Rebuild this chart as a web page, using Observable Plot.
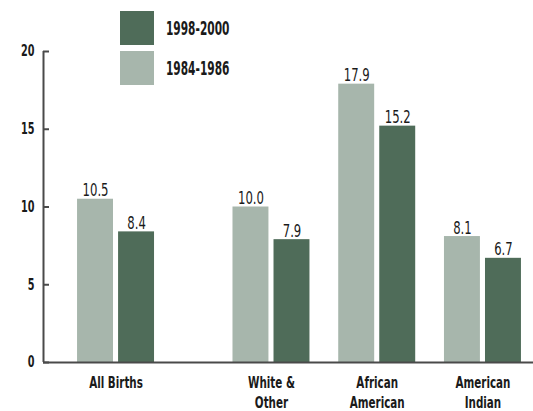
<!DOCTYPE html>
<html><head><meta charset="utf-8">
<script src="https://cdn.jsdelivr.net/npm/d3@7"></script>
<script src="https://cdn.jsdelivr.net/npm/@observablehq/plot@0.6"></script>
<style>
body{margin:0;background:#fff;}
#wrap{position:relative;width:533px;height:411px;font-family:"Liberation Sans Narrow","DejaVu Sans Condensed","Arial Narrow",sans-serif;}
#legend{position:absolute;left:120px;top:11px;}
.item{display:flex;align-items:center;height:34px;margin-bottom:6px;font-weight:bold;font-size:19px;color:#1a1a1a;white-space:nowrap}
.sw{width:34px;height:34px;margin-right:12px;flex:none}
.lt{display:inline-block;transform:scaleX(0.62);transform-origin:left center}
</style></head><body><div id="wrap"><div id="chart"></div><div id="legend"></div></div>
<script>
const categories = ["All Births", "White & Other", "African American", "American Indian"];
const categoryLabels = ["All Births", "White &\nOther", "African\nAmerican", "American\nIndian"];
const series = ["1984-1986", "1998-2000"];
const values1984 = [10.5, 10.0, 17.9, 8.1];
const values1998 = [8.4, 7.9, 15.2, 6.7];
const yTicks = [0, 5, 10, 15, 20];
const legendOrder = ["1998-2000", "1984-1986"];
const seriesColors = ["#a7b6ac", "#4f6c59"];

// layout (in group units): extra gap after the first group
const groupGap = 0.47;
const groupPos = categories.map((c, i) => i === 0 ? 0 : i + groupGap);
const halfGap = 0.024, barW = 0.34;
const xDomain = [-0.686, 3.948];

const rows = [];
categories.forEach((c, i) => {
  rows.push({cat: c, series: series[0], value: values1984[i], x1: groupPos[i] - halfGap - barW, x2: groupPos[i] - halfGap});
  rows.push({cat: c, series: series[1], value: values1998[i], x1: groupPos[i] + halfGap, x2: groupPos[i] + halfGap + barW});
});

const axisColor = "#4a4a4a";
const ink = "#1a1a1a";
const chart = Plot.plot({
  width: 533,
  height: 411,
  marginTop: 51,
  marginBottom: 49,
  marginLeft: 43,
  marginRight: 0,
  style: {fontFamily: '"Liberation Sans Narrow","DejaVu Sans Condensed","Arial Narrow",sans-serif', fontSize: "16px", color: ink},
  x: {domain: xDomain, axis: null},
  y: {domain: [0, 20], axis: null},
  color: {domain: series, range: seriesColors},
  marks: [
    Plot.rectY(rows, {x1: "x1", x2: "x2", y: "value", fill: "series"}),
    Plot.text(rows, {x: d => (d.x1 + d.x2) / 2, y: "value", text: d => d.value.toFixed(1), dy: -3, lineAnchor: "bottom", fontSize: 18, fill: ink, ariaLabel: "value-label"}),
    Plot.ruleY([0], {stroke: axisColor, strokeWidth: 2}),
    Plot.ruleX([xDomain[0]], {y1: 0, y2: 20, stroke: axisColor, strokeWidth: 2}),
    Plot.axisY(yTicks, {tickSize: 6, dx: 6, text: null, label: null, stroke: axisColor, strokeWidth: 2}),
    Plot.axisY(yTicks, {tickSize: 0, tickPadding: 9, label: null, fontWeight: "bold", fontSize: 15, fill: ink}),
    Plot.axisX(groupPos, {tickSize: 0, tickPadding: 11, tickFormat: d => categoryLabels[groupPos.indexOf(d)], lineHeight: 1.25, fontWeight: "bold", fontSize: 16, fill: ink, label: null})
  ]
});
document.getElementById("chart").appendChild(chart);

// condense the glyphs horizontally (the reference uses a condensed face)
chart.querySelectorAll("text").forEach(t => {
  const g = t.closest("g[aria-label]");
  const isValue = g && g.getAttribute("aria-label") === "value-label";
  const k = isValue ? 0.74 : 0.72;
  const tr = t.getAttribute("transform") || "";
  if (!tr && (t.hasAttribute("x") || t.hasAttribute("y"))) {
    const x = t.getAttribute("x") || 0, y = t.getAttribute("y") || 0;
    t.removeAttribute("x"); t.removeAttribute("y");
    t.setAttribute("transform", `translate(${x},${y}) scale(${k},1)`);
  } else {
    t.setAttribute("transform", `${tr} scale(${k},1)`);
  }
});

const legend = document.getElementById("legend");
legendOrder.forEach(s => {
  const item = document.createElement("div");
  item.className = "item";
  const sw = document.createElement("div");
  sw.className = "sw";
  sw.style.background = seriesColors[series.indexOf(s)];
  item.appendChild(sw);
  const lt = document.createElement("span");
  lt.className = "lt";
  lt.textContent = s;
  item.appendChild(lt);
  legend.appendChild(item);
});
</script></body></html>
